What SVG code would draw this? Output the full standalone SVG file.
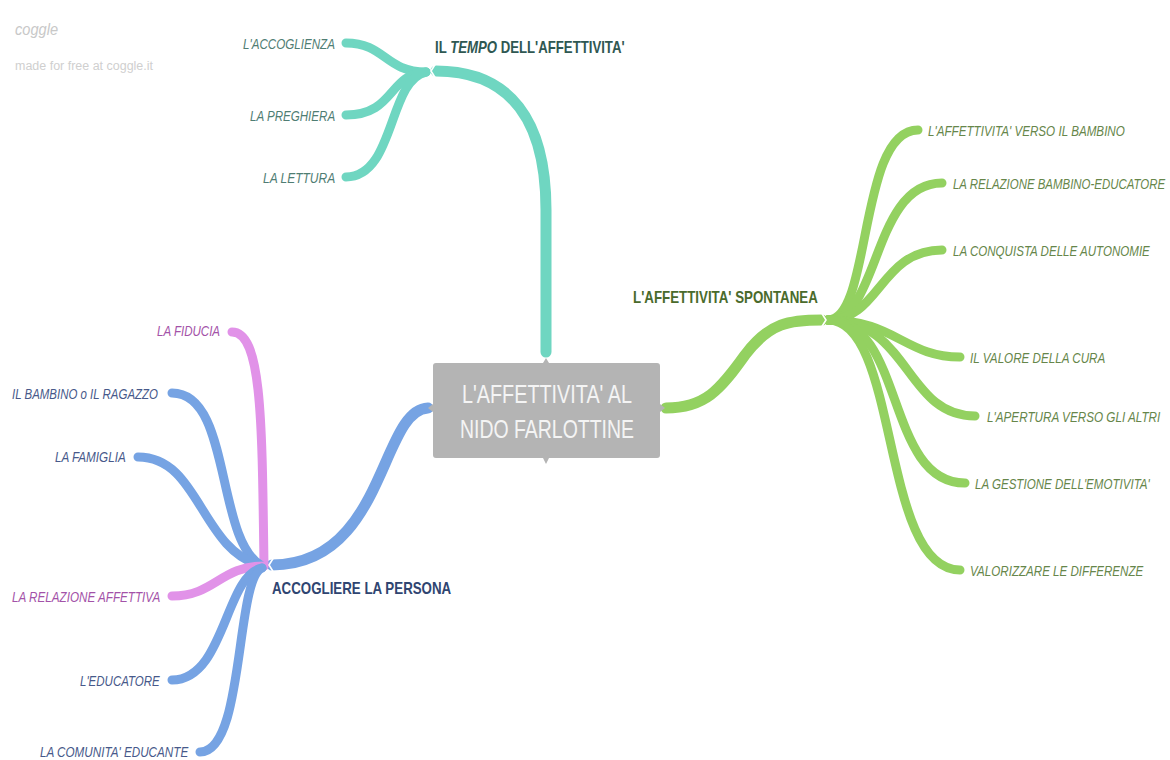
<svg xmlns="http://www.w3.org/2000/svg" width="1170" height="760" viewBox="0 0 1170 760">
<style>
text{font-family:"Liberation Sans",Arial,sans-serif}
.b{fill:none;stroke-linecap:round}
.teal{stroke:#6fd6c1}
.green{stroke:#93d160}
.blue{stroke:#76a3e3}
.pink{stroke:#e192e8}
.main{stroke-width:11}
.sub{stroke-width:9}
.notch{fill:none;stroke:#ffffff;stroke-width:1.6}
.lbl{font-size:15px;font-style:italic}
.hd{font-size:16px;font-weight:bold}
.tl{fill:#4f7d73}
.gl{fill:#66864a}
.bl{fill:#47598a}
.pl{fill:#a352a8}
</style>
<rect width="1170" height="760" fill="#ffffff"/>
<g id="logo">
<text x="15" y="35" font-size="16" font-style="italic" fill="#c8c8c8" font-family="'DejaVu Sans',sans-serif" textLength="43" lengthAdjust="spacingAndGlyphs">coggle</text>
<text x="15" y="70" font-size="12" fill="#cfcfcf" textLength="138" lengthAdjust="spacingAndGlyphs">made for free at coggle.it</text>
</g>
<g id="connectors">
<path class="b teal main" d="M546,352 L546,210 C546,120 510,71 436,71"/>
<path class="b teal sub" d="M426,72 C385,72 385,43 346,43"/>
<path class="b teal sub" d="M426,72 C388,74 395,115 346,115"/>
<path class="b teal sub" d="M426,72 C388,80 395,177 346,177"/>
<path class="b green main" d="M666,408 C705,408 720,390 745,355 C770,322 790,320 822,320"/>
<path class="b green sub" d="M828,320 C872,320 858,130 918,130"/>
<path class="b green sub" d="M828,320 C880,320 872,183 942,183"/>
<path class="b green sub" d="M828,320 C880,320 880,250 942,250"/>
<path class="b green sub" d="M828,320 C895,320 905,357 960,357"/>
<path class="b green sub" d="M828,320 C910,320 905,416 975,416"/>
<path class="b green sub" d="M828,320 C905,320 885,483 965,483"/>
<path class="b green sub" d="M828,320 C900,320 880,570 960,570"/>
<path class="b blue main" d="M428,408 C380,410 385,565 272,565"/>
<path class="b pink sub" d="M264,566 C262,420 262,332 232,332"/>
<path class="b blue sub" d="M262,566 C215,540 232,393 172,393"/>
<path class="b blue sub" d="M262,566 C200,550 200,457 138,457"/>
<path class="b pink sub" d="M264,566 C220,566 215,596 172,596"/>
<path class="b blue sub" d="M262,568 C225,575 225,680 172,680"/>
<path class="b blue sub" d="M262,568 C235,580 245,752 200,752"/>
<polyline class="notch" points="436,63 431,71 436,79"/>
<polyline class="notch" points="821,312 826,320 821,328"/>
<polyline class="notch" points="274,557 269,565 274,573"/>
</g>
<g id="center">
<path d="M436,363 L543,363 L546,358 L549,363 L657,363 Q660,363 660,366 L660,404 L665,408 L660,412 L660,455 Q660,458 657,458 L549,458 L546,464 L543,458 L436,458 Q433,458 433,455 L433,412 L428,408 L433,404 L433,366 Q433,363 436,363 Z" fill="#b4b4b4"/>
<text x="462" y="403" font-size="25" fill="#f4f4f4" textLength="170" lengthAdjust="spacingAndGlyphs">L'AFFETTIVITA' AL</text>
<text x="460" y="438" font-size="25" fill="#f4f4f4" textLength="174" lengthAdjust="spacingAndGlyphs">NIDO FARLOTTINE</text>
</g>
<g id="tempo">
<text class="hd" transform="translate(435,52.5) scale(0.8,1)" fill="#2f5852" textLength="237" lengthAdjust="spacingAndGlyphs">IL <tspan font-style="italic">TEMPO</tspan> DELL'AFFETTIVITA'</text>
</g>
<g id="accoglienza"><text class="lbl tl" transform="translate(243,48.5) scale(0.76,1)" textLength="121" lengthAdjust="spacingAndGlyphs">L'ACCOGLIENZA</text></g>
<g id="preghiera"><text class="lbl tl" transform="translate(250,120.5) scale(0.76,1)" textLength="112" lengthAdjust="spacingAndGlyphs">LA PREGHIERA</text></g>
<g id="lettura"><text class="lbl tl" transform="translate(263,182.5) scale(0.76,1)" textLength="95" lengthAdjust="spacingAndGlyphs">LA LETTURA</text></g>
<g id="spontanea">
<text class="hd" transform="translate(633,302.5) scale(0.8,1)" fill="#4a6b2c" textLength="231" lengthAdjust="spacingAndGlyphs">L'AFFETTIVITA' SPONTANEA</text>
</g>
<g id="g1"><text class="lbl gl" transform="translate(928,135.5) scale(0.76,1)" textLength="259" lengthAdjust="spacingAndGlyphs">L'AFFETTIVITA' VERSO IL BAMBINO</text></g>
<g id="g2"><text class="lbl gl" transform="translate(953,188.5) scale(0.76,1)" textLength="279" lengthAdjust="spacingAndGlyphs">LA RELAZIONE BAMBINO-EDUCATORE</text></g>
<g id="g3"><text class="lbl gl" transform="translate(953,255.5) scale(0.76,1)" textLength="259" lengthAdjust="spacingAndGlyphs">LA CONQUISTA DELLE AUTONOMIE</text></g>
<g id="g4"><text class="lbl gl" transform="translate(970,362.5) scale(0.76,1)" textLength="178" lengthAdjust="spacingAndGlyphs">IL VALORE DELLA CURA</text></g>
<g id="g5"><text class="lbl gl" transform="translate(987,421.5) scale(0.76,1)" textLength="228" lengthAdjust="spacingAndGlyphs">L'APERTURA VERSO GLI ALTRI</text></g>
<g id="g6"><text class="lbl gl" transform="translate(975,488.5) scale(0.76,1)" textLength="230" lengthAdjust="spacingAndGlyphs">LA GESTIONE DELL'EMOTIVITA'</text></g>
<g id="g7"><text class="lbl gl" transform="translate(970,575.5) scale(0.76,1)" textLength="228" lengthAdjust="spacingAndGlyphs">VALORIZZARE LE DIFFERENZE</text></g>
<g id="persona">
<text class="hd" transform="translate(272,593.5) scale(0.8,1)" fill="#2f4571" textLength="224" lengthAdjust="spacingAndGlyphs">ACCOGLIERE LA PERSONA</text>
</g>
<g id="fiducia"><text class="lbl pl" transform="translate(157,335.5) scale(0.76,1)" textLength="83" lengthAdjust="spacingAndGlyphs">LA FIDUCIA</text></g>
<g id="bambino"><text class="lbl bl" transform="translate(12,398.5) scale(0.76,1)" textLength="192" lengthAdjust="spacingAndGlyphs">IL BAMBINO o IL RAGAZZO</text></g>
<g id="famiglia"><text class="lbl bl" transform="translate(55,461.5) scale(0.76,1)" textLength="93" lengthAdjust="spacingAndGlyphs">LA FAMIGLIA</text></g>
<g id="relazione"><text class="lbl pl" transform="translate(12,601.5) scale(0.76,1)" textLength="195" lengthAdjust="spacingAndGlyphs">LA RELAZIONE AFFETTIVA</text></g>
<g id="educatore"><text class="lbl bl" transform="translate(80,685.5) scale(0.76,1)" textLength="105" lengthAdjust="spacingAndGlyphs">L'EDUCATORE</text></g>
<g id="comunita"><text class="lbl bl" transform="translate(40,757) scale(0.76,1)" textLength="195" lengthAdjust="spacingAndGlyphs">LA COMUNITA' EDUCANTE</text></g>
</svg>
